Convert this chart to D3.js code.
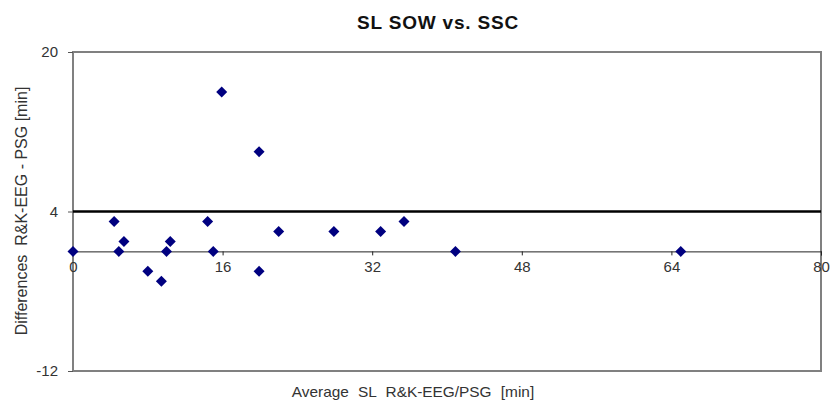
<!DOCTYPE html>
<html>
<head>
<meta charset="utf-8">
<script src="https://cdn.jsdelivr.net/npm/d3@7"></script>
<style>
  body { margin: 0; background: #fff; }
  svg { font-family: "Liberation Sans", Arial, sans-serif; }
</style>
</head>
<body>
<div id="chart"></div>
<script>
// average SL (x) and difference (y) for each subject
const avgSL = [0, 4.4, 4.9, 5.45, 8, 9.45, 10, 10.4, 14.4, 15, 15.9, 19.9, 19.9, 22, 27.9, 32.9, 35.4, 40.9, 65];
const diffSL = [0, 3, 0, 1, -2, -3, 0, 1, 3, 0, 16, 10, -2, 2, 2, 2, 3, 0, 0];
const meanDiff = 4;
const xTicks = [0, 16, 32, 48, 64, 80];
const yTicks = [-12, 4, 20];

const margin = { top: 52, right: 11, bottom: 34, left: 73 },
  width = 832 - margin.left - margin.right,
  height = 405 - margin.top - margin.bottom;

const svg = d3.select("#chart")
  .append("svg")
  .attr("width", 832)
  .attr("height", 405);

const g = svg.append("g")
  .attr("transform", `translate(${margin.left},${margin.top})`);

const x = d3.scaleLinear().domain([0, 80]).range([0, width]);
const y = d3.scaleLinear().domain([-12, 20]).range([height, 0]);

// title
svg.append("text")
  .attr("x", 438)
  .attr("y", 29)
  .attr("text-anchor", "middle")
  .style("font-size", "19px")
  .style("font-weight", "bold")
  .style("letter-spacing", "0.8px")
  .attr("fill", "#111")
  .text("SL SOW vs. SSC");

// plot frame
g.append("rect")
  .attr("width", width)
  .attr("height", height)
  .attr("fill", "none")
  .attr("stroke", "#808080")
  .attr("stroke-width", 2);

// y axis ticks + labels
const yAxis = g.append("g")
  .call(d3.axisLeft(y).tickValues(yTicks).tickSize(5).tickPadding(10).tickFormat(d => String(d)))
  .style("font-size", "15px");
yAxis.select(".domain").remove();
yAxis.selectAll("line").attr("stroke", "#555");
yAxis.selectAll("text").attr("fill", "#333").attr("font-family", "Liberation Sans, Arial, sans-serif");

// x axis drawn at y = 0
const xAxis = g.append("g")
  .attr("transform", `translate(0,${y(0)})`)
  .call(d3.axisBottom(x).tickValues(xTicks).tickSize(4).tickPadding(6).tickFormat(d => String(d)))
  .style("font-size", "15px");
xAxis.select(".domain").attr("stroke", "#222").attr("stroke-width", 1);
xAxis.selectAll("line").attr("stroke", "#222");
xAxis.selectAll("text").attr("fill", "#333").attr("font-family", "Liberation Sans, Arial, sans-serif");

// mean difference line
g.append("line")
  .attr("x1", 0)
  .attr("x2", width)
  .attr("y1", y(meanDiff))
  .attr("y2", y(meanDiff))
  .attr("stroke", "#000")
  .attr("stroke-width", 2.5);

// diamond markers
const r = 5.5;
const diamond = d => `M${x(d[0])},${y(d[1]) - r}L${x(d[0]) + r},${y(d[1])}L${x(d[0])},${y(d[1]) + r}L${x(d[0]) - r},${y(d[1])}Z`;
g.selectAll("path.pt")
  .data(d3.zip(avgSL, diffSL))
  .join("path")
  .attr("class", "pt")
  .attr("d", diamond)
  .attr("fill", "#000080");

// axis titles
svg.append("text")
  .attr("transform", "translate(413,397) scale(1.1,1)")
  .attr("text-anchor", "middle")
  .style("font-size", "14px")
  .style("word-spacing", "4.5px")
  .attr("fill", "#333")
  .text("Average SL R&K-EEG/PSG [min]");

svg.append("text")
  .attr("transform", `translate(27,211) rotate(-90)`)
  .attr("text-anchor", "middle")
  .style("font-size", "16px")
  .style("white-space", "pre")
  .attr("fill", "#333")
  .text("Differences  R&K-EEG - PSG [min]");
</script>
</body>
</html>
